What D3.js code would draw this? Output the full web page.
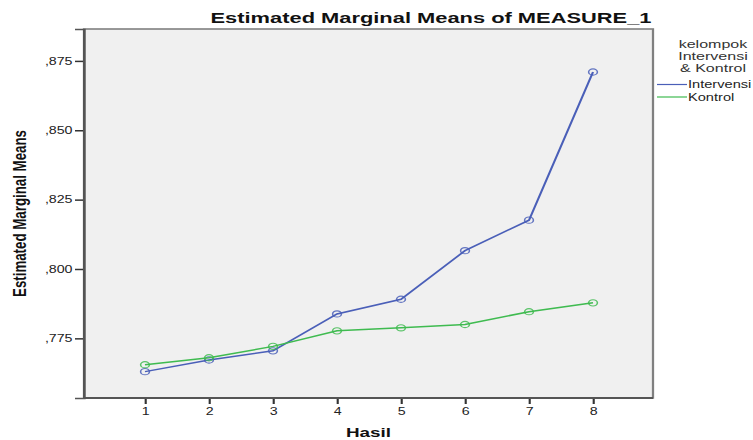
<!DOCTYPE html>
<html>
<head>
<meta charset="utf-8">
<script src="https://cdn.jsdelivr.net/npm/d3@7/dist/d3.min.js"></script>
<style>
  html, body { margin: 0; padding: 0; background: #ffffff; }
  svg { display: block; font-family: "Liberation Sans", Arial, sans-serif; }
</style>
</head>
<body>
<svg id="chart" width="753" height="440"></svg>
<script>
// ---- data ----
const hasil = [1, 2, 3, 4, 5, 6, 7, 8];
const xTickLabels = ["1", "2", "3", "4", "5", "6", "7", "8"];
const intervensi = [0.7630, 0.7672, 0.7705, 0.7838, 0.7891, 0.8066, 0.8176, 0.8710];
const kontrol = [0.7655, 0.7680, 0.7721, 0.7777, 0.7788, 0.7800, 0.7846, 0.7878];
const yTicks = [0.775, 0.800, 0.825, 0.850, 0.875];
const yTickLabels = [",775", ",800", ",825", ",850", ",875"];
const seriesNames = ["Intervensi", "Kontrol"];
const legendTitle = ["kelompok", "Intervensi", "& Kontrol"];
const titleText = "Estimated Marginal Means of MEASURE_1";
const xTitle = "Hasil";
const yTitle = "Estimated Marginal Means";

// ---- layout (pixel space; whole drawing is stretched horizontally) ----
const S = 1.42;              // horizontal stretch of the original picture
const px = v => v / S;       // convert real pixels -> logical units
const plot = { left: 84, right: 653, top: 29, bottom: 398 };
const colors = ["#4a5fb8", "#3fbb50"];

const svg = d3.select("#chart");
const g = svg.append("g").attr("transform", `scale(${S},1)`);

const x = d3.scaleLinear().domain([1, 8]).range([px(145), px(593)]);
const y = d3.scaleLinear().domain([0.7535, 0.8865]).range([plot.bottom, plot.top]);

// plot background + frame
g.append("rect")
  .attr("x", px(plot.left)).attr("y", plot.top)
  .attr("width", px(plot.right - plot.left)).attr("height", plot.bottom - plot.top)
  .attr("fill", "#f0f0f0").attr("stroke", "#808080").attr("stroke-width", 1.6);

// axes
const yAxis = d3.axisLeft(y)
  .tickValues(yTicks)
  .tickFormat((d, i) => yTickLabels[i])
  .tickSize(px(9)).tickPadding(px(2.5));
const ya = g.append("g").attr("transform", `translate(${px(plot.left)},0)`).call(yAxis);
ya.select(".domain").attr("stroke", "#555").attr("stroke-width", 1.4);
ya.selectAll(".tick line").attr("stroke", "#333").attr("stroke-width", 1.5);
ya.selectAll(".tick text").attr("font-size", 10).attr("fill", "#222")
  .attr("font-family", "Liberation Sans, Arial, sans-serif");

const xAxis = d3.axisBottom(x)
  .tickValues(hasil)
  .tickFormat((d, i) => xTickLabels[i])
  .tickSize(6).tickPadding(3.5);
const xa = g.append("g").attr("transform", `translate(0,${plot.bottom})`).call(xAxis);
xa.select(".domain").remove();
xa.append("line")
  .attr("x1", px(plot.left)).attr("x2", px(plot.right))
  .attr("stroke", "#555").attr("stroke-width", 2);
xa.selectAll(".tick line").attr("stroke", "#333").attr("stroke-width", 1.5);
xa.selectAll(".tick text").attr("font-size", 10).attr("fill", "#222")
  .attr("font-family", "Liberation Sans, Arial, sans-serif");

// left axis drawn thicker on top of frame
g.append("line")
  .attr("x1", px(plot.left)).attr("x2", px(plot.left))
  .attr("y1", plot.top).attr("y2", plot.bottom)
  .attr("stroke", "#555").attr("stroke-width", 1.4);

// series
const series = [intervensi, kontrol];
const line = d3.line().x((d, i) => x(hasil[i])).y(d => y(d));
series.forEach((vals, si) => {
  g.append("path").datum(vals)
    .attr("d", line)
    .attr("fill", "none").attr("stroke", colors[si]).attr("stroke-width", 1.5);
  g.selectAll(null).data(vals).enter().append("circle")
    .attr("cx", (d, i) => x(hasil[i])).attr("cy", d => y(d))
    .attr("r", 3.1)
    .attr("fill", "none").attr("stroke", colors[si]).attr("stroke-opacity", 0.85)
    .attr("stroke-width", 1.1);
});

// titles
g.append("text")
  .attr("x", px(431)).attr("y", 22.7)
  .attr("text-anchor", "middle").attr("font-weight", "bold").attr("font-size", 15.4)
  .attr("fill", "#111").text(titleText);

g.append("text")
  .attr("x", px(368.5)).attr("y", 437)
  .attr("text-anchor", "middle").attr("font-weight", "bold").attr("font-size", 13.3)
  .attr("fill", "#111").text(xTitle);

g.append("text")
  .attr("transform", `translate(${px(26)},${(plot.top + plot.bottom) / 2}) rotate(-90)`)
  .attr("text-anchor", "middle").attr("font-weight", "bold").attr("font-size", 13.3)
  .attr("fill", "#111").text(yTitle);

// legend
legendTitle.forEach((t, i) => {
  g.append("text")
    .attr("x", px(713)).attr("y", 48.3 + i * 11.7)
    .attr("text-anchor", "middle").attr("font-size", 11.3)
    .attr("fill", "#333").text(t);
});
seriesNames.forEach((name, i) => {
  const ly = 84.5 + i * 12.5;
  g.append("line")
    .attr("x1", px(657)).attr("x2", px(687))
    .attr("y1", ly).attr("y2", ly)
    .attr("stroke", colors[i]).attr("stroke-width", 1.2);
  g.append("text")
    .attr("x", px(688)).attr("y", ly + 4)
    .attr("font-size", 10.3).attr("fill", "#222").text(name);
});
</script>
</body>
</html>
